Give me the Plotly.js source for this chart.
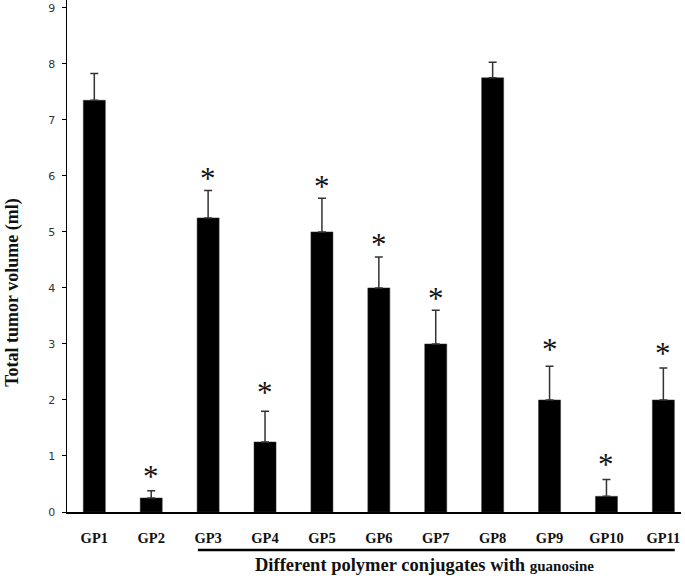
<!DOCTYPE html>
<html>
<head>
<meta charset="utf-8">
<script src="https://cdn.plot.ly/plotly-3.0.1.min.js"></script>
<style>html,body{margin:0;padding:0;background:#fff;}#chart{width:685px;height:578px;}</style>
</head>
<body>
<div id="chart"></div>
<script>
const groups = ["GP1","GP2","GP3","GP4","GP5","GP6","GP7","GP8","GP9","GP10","GP11"];
const volumes = [7.35, 0.25, 5.25, 1.25, 5.0, 4.0, 3.0, 7.75, 2.0, 0.28, 2.0];
const errors = [0.48, 0.13, 0.49, 0.55, 0.6, 0.55, 0.6, 0.28, 0.6, 0.3, 0.57];
const starGroups = ["GP2","GP3","GP4","GP5","GP6","GP7","GP9","GP10","GP11"];
const starHeights = [0.75, 6.08, 2.25, 5.93, 4.9, 3.93, 3.02, 0.97, 2.95];

const bars = {
  type: 'bar', x: groups, y: volumes, width: 0.387,
  marker: {color: '#000000', line: {color: '#333', width: 0.5}},
  error_y: {type: 'data', array: errors, symmetric: false, arrayminus: errors.map(()=>0),
            color: '#333333', thickness: 1.5, width: 4},
  hoverinfo: 'none', showlegend: false
};

const starAnnotations = starGroups.map((g, i) => ({
  xref: 'x', yref: 'y', x: g, y: starHeights[i], text: '*', showarrow: false,
  xanchor: 'center', yanchor: 'middle', yshift: -7,
  font: {family: 'Liberation Serif, Times New Roman, serif', size: 31, color: '#111'}
}));

const layout = {
  width: 685, height: 578,
  margin: {l: 67, r: 4, t: 0, b: 66},
  paper_bgcolor: '#fff', plot_bgcolor: '#fff',
  showlegend: false,
  xaxis: {
    type: 'category', range: [-0.48, 10.31], showgrid: false, zeroline: false,
    showline: true, linecolor: '#000', linewidth: 1.5, ticks: '',
    ticklabelstandoff: 12,
    tickfont: {family: 'Liberation Serif, Times New Roman, serif', size: 14.5, color: '#111', weight: 'bold'}
  },
  yaxis: {
    range: [0, 9.14], dtick: 1, tick0: 0, showgrid: false, zeroline: false,
    showline: true, linecolor: '#000', linewidth: 1.5, ticks: 'outside', ticklen: 4, tickcolor: '#000',
    ticklabelstandoff: 4,
    tickfont: {family: 'DejaVu Sans, Verdana, sans-serif', size: 11, color: '#333'}
  },
  shapes: [{type: 'line', xref: 'x', yref: 'paper', x0: 1.82, x1: 10.2, y0: -0.074, y1: -0.074,
            line: {color: '#000', width: 2.5}}],
  annotations: starAnnotations.concat([
    {xref: 'x', yref: 'paper', x: 5.81, y: -0.1035, showarrow: false, xanchor: 'center', yanchor: 'middle',
     text: '<b>Different polymer conjugates with <span style="font-size:15px">guanosine</span></b>',
     font: {family: 'Liberation Serif, Times New Roman, serif', size: 18.5, color: '#111'}},
    {xref: 'paper', yref: 'paper', x: -0.088, y: 0.43, showarrow: false, textangle: -90,
     xanchor: 'center', yanchor: 'middle',
     text: '<b>Total tumor volume (ml)</b>',
     font: {family: 'Liberation Serif, Times New Roman, serif', size: 18, color: '#111'}}
  ])
};
Plotly.newPlot('chart', [bars], layout, {displayModeBar: false, staticPlot: true});
</script>
</body>
</html>
